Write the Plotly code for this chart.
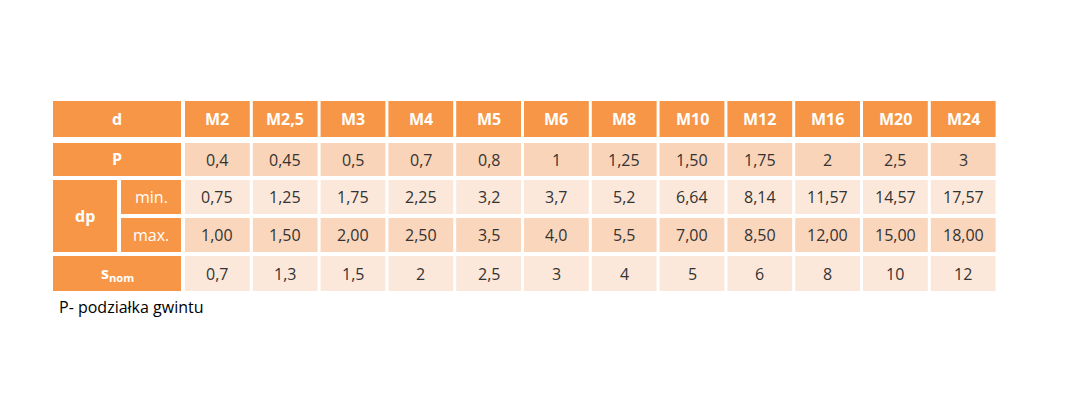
import plotly.graph_objects as go

sizes = ["M2","M2,5","M3","M4","M5","M6","M8","M10","M12","M16","M20","M24"]
P = ["0,4","0,45","0,5","0,7","0,8","1","1,25","1,50","1,75","2","2,5","3"]
dp_min = ["0,75","1,25","1,75","2,25","3,2","3,7","5,2","6,64","8,14","11,57","14,57","17,57"]
dp_max = ["1,00","1,50","2,00","2,50","3,5","4,0","5,5","7,00","8,50","12,00","15,00","18,00"]
s_nom = ["0,7","1,3","1,5","2","2,5","3","4","5","6","8","10","12"]
note = "P- podziałka gwintu"

ORANGE = "#F79646"
rows = [P, dp_min, dp_max, s_nom]
row_fill = ["#FAD4B8", "#FCE8DA", "#FAD6BD", "#FCE8DA"]
row_y = [(142, 175), (179, 213), (217, 251), (255, 290)]
head_y = (100, 136)
x0, cw, gap = 185, 67.8, 3

fig = go.Figure()
shapes, ann = [], []
def rect(xa, xb, ya, yb, c):
    shapes.append(dict(type="rect", x0=xa, x1=xb, y0=ya, y1=yb, fillcolor=c, line=dict(width=0), layer="below"))
def txt(x, y, t, color, bold=False, size=16, xanchor="center"):
    ann.append(dict(x=x, y=y, text=f"<b>{t}</b>" if bold else t, showarrow=False,
                    font=dict(color=color, size=size, family="Open Sans"), xanchor=xanchor, yanchor="middle"))

rect(53, 181, *head_y, ORANGE); txt(117, 118, "d", "white", True)
for i, s in enumerate(sizes):
    xa = x0 + i * cw; xb = xa + cw - gap
    rect(xa, xb, *head_y, ORANGE); txt((xa + xb) / 2, 118, s, "white", True)
    for r, vals in enumerate(rows):
        ya, yb = row_y[r]
        rect(xa, xb, ya, yb, row_fill[r]); txt((xa + xb) / 2, (ya + yb) / 2, vals[i], "#333333")

rect(53, 181, *row_y[0], ORANGE); txt(117, 158, "P", "white", True)
rect(53, 117, row_y[1][0], row_y[2][1], ORANGE); txt(85, 215, "dp", "white", True)
rect(121, 181, *row_y[1], ORANGE); txt(151, 196, "min.", "white")
rect(121, 181, *row_y[2], ORANGE); txt(151, 234, "max.", "white")
rect(53, 181, *row_y[3], ORANGE); txt(117, 272, "s<sub>nom</sub>", "white", True)

txt(57, 306, note, "black", size=16, xanchor="left")

fig.update_layout(width=1069, height=401, margin=dict(l=0, r=0, t=0, b=0),
                  plot_bgcolor="white", paper_bgcolor="white", shapes=shapes, annotations=ann,
                  xaxis=dict(range=[8, 1077], visible=False, fixedrange=True),
                  yaxis=dict(range=[408, 7], visible=False, fixedrange=True), showlegend=False)
fig.write_html("out.html")
